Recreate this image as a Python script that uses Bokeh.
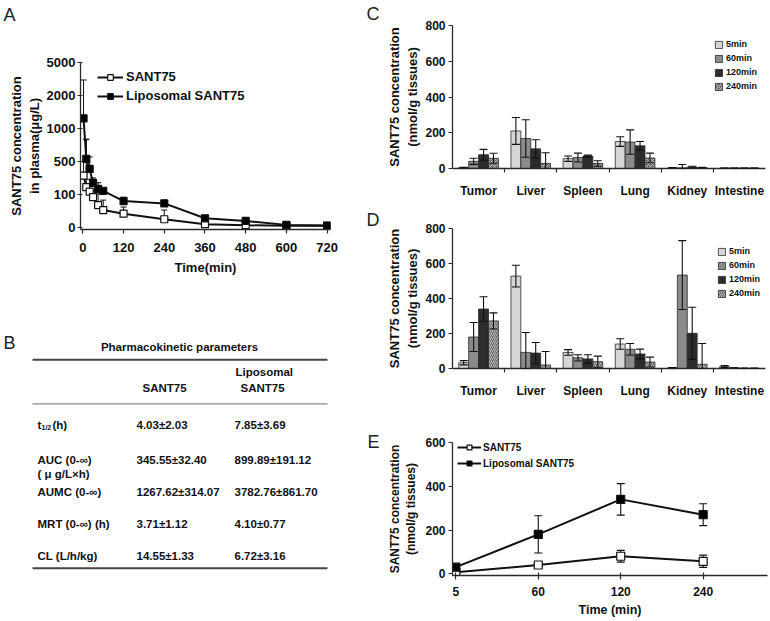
import numpy as np
from bokeh.plotting import figure
from bokeh.models import (Range1d, FixedTicker, Whisker, TeeHead, ColumnDataSource,
                          Legend, LegendItem)
from bokeh.layouts import row, column
from bokeh.embed import file_html
from bokeh.resources import INLINE
from bokeh.core.properties import value

FONT = "Liberation Sans"
AXC = "#2a2a2a"
TXT = "#111111"

# ---------------- Panel A : plasma concentration ----------------
a_time = [2, 10, 20, 30, 45, 60, 120, 240, 360, 480, 600, 720]
a_sant = [330, 190, 135, 92, 68, 53, 42, 25, 10, 7, 5, 5]
a_sant_err = [170, 640, 150, 60, 40, 30, 20, 28, 6, 5, 3, 3]
a_lipo = [1310, 540, 410, 240, 168, 145, 80, 73, 28, 20, 8, 6]
a_lipo_err = [2100, 300, 160, 60, 75, 40, 12, 10, 6, 5, 3, 3]
a_ytick_vals = [0, 100, 500, 1000, 2000, 5000]
a_xticks = [0, 120, 240, 360, 480, 600, 720]

# ---------------- Panel B : pharmacokinetic table ----------------
b_title = "Pharmacokinetic parameters"
b_col_head = ["SANT75", "Liposomal", "SANT75"]
b_params = ["AUC (0-∞)", "AUMC (0-∞)", "MRT (0-∞) (h)", "CL  (L/h/kg)"]
b_sant = ["4.03±2.03", "345.55±32.40", "1267.62±314.07", "3.71±1.12", "14.55±1.33"]
b_lipo = ["7.85±3.69", "899.89±191.12", "3782.76±861.70", "4.10±0.77", "6.72±3.16"]

# ---------------- Panels C / D : tissue distribution ----------------
tissues = ["Tumor", "Liver", "Spleen", "Lung", "Kidney", "Intestine"]
bar_times = ["5min", "60min", "120min", "240min"]

c_5 = [5, 210, 55, 151, 3, 2]
c_5_err = [2, 75, 15, 27, 2, 1]
c_60 = [40, 168, 61, 148, 4, 2]
c_60_err = [17, 105, 25, 68, 18, 1]
c_120 = [77, 110, 70, 127, 8, 2]
c_120_err = [30, 51, 5, 24, 5, 1]
c_240 = [57, 28, 28, 59, 5, 2]
c_240_err = [28, 60, 15, 27, 2, 1]

d_5 = [33, 528, 92, 140, 4, 11]
d_5_err = [12, 62, 16, 30, 2, 6]
d_60 = [180, 92, 61, 110, 534, 3]
d_60_err = [83, 114, 18, 33, 197, 1]
d_120 = [340, 88, 55, 83, 201, 1]
d_120_err = [70, 61, 24, 28, 149, 1]
d_240 = [272, 20, 39, 37, 24, 1]
d_240_err = [46, 77, 32, 28, 119, 1]

# ---------------- Panel E : tumor concentration ----------------
e_times = ["5", "60", "120", "240"]
e_sant = [7, 40, 80, 57]
e_sant_err = [4, 8, 27, 28]
e_lipo = [30, 180, 340, 270]
e_lipo_err = [10, 85, 72, 50]

panel_letters = ["A", "B", "C", "D", "E"]


def style(p, tick_size="12px", label_size="13px"):
    for ax in p.axis:
        ax.axis_line_color = AXC
        ax.axis_line_width = 1.3
        ax.major_tick_line_color = AXC
        ax.major_tick_line_width = 1.2
        ax.minor_tick_line_color = None
        ax.major_label_text_font = FONT
        ax.major_label_text_font_style = "bold"
        ax.major_label_text_font_size = tick_size
        ax.major_label_text_color = TXT
        ax.axis_label_text_font = FONT
        ax.axis_label_text_font_style = "bold"
        ax.axis_label_text_font_size = label_size
        ax.axis_label_text_color = TXT
    p.grid.visible = False
    p.outline_line_color = None
    p.background_fill_color = "white"
    p.border_fill_color = "white"


def blank(w, h):
    p = figure(width=w, height=h, output_backend="svg", toolbar_location=None,
               x_range=Range1d(0, w), y_range=Range1d(h, 0), min_border=0,
               x_axis_location=None, y_axis_location=None, frame_align=False)
    p.grid.visible = False
    p.outline_line_color = None
    p.border_fill_color = "white"
    return p


LET = dict(text_font=value(FONT), text_font_size="18px", text_color="#222222",
           text_baseline="alphabetic", text_align="left")

LW = 366  # left column width
RW = 770 - LW  # right column width
SA_H = 30
A_H = 260

# ================= strip with letter A =================
sA = blank(LW, SA_H)
sA.text(x=[3], y=[14], text=[panel_letters[0]], **LET)

# ================= Panel A =================
def a_tr(v):
    return np.interp(v, a_ytick_vals, np.arange(len(a_ytick_vals)))

pA = figure(width=LW, height=A_H, output_backend="svg", toolbar_location=None,
            x_range=Range1d(-7, 730), y_range=Range1d(-0.06, 5), frame_align=False,
            min_border_left=80, min_border_right=LW - 330, min_border_top=62 - SA_H,
            min_border_bottom=A_H - (62 - SA_H) - 167)
style(pA, tick_size="13px", label_size="13px")
pA.xaxis.ticker = FixedTicker(ticks=a_xticks)
pA.yaxis.ticker = FixedTicker(ticks=list(range(len(a_ytick_vals))))
pA.yaxis.major_label_overrides = {i: str(v) for i, v in enumerate(a_ytick_vals)}
pA.xaxis.major_tick_out = 4
pA.xaxis.major_tick_in = 0
pA.xaxis.major_label_standoff = 9
pA.yaxis.major_tick_out = 3
pA.yaxis.major_tick_in = 2
pA.yaxis.major_label_standoff = 2
pA.yaxis.axis_label = "SANT75 concentration\nin plasma(μg/L)"
pA.yaxis.axis_label_standoff = 2
pA.xaxis.axis_label = "Time(min)"
pA.xaxis.axis_label_standoff = 5

a_items = []
for vals, errs, fill, name in [(a_sant, a_sant_err, "white", "SANT75"),
                               (a_lipo, a_lipo_err, "black", "Liposomal SANT75")]:
    v = np.array(vals, float)
    e = np.array(errs, float)
    src = ColumnDataSource(dict(x=a_time, y=a_tr(v), up=a_tr(v + e)))
    pA.add_layout(Whisker(source=src, base="x", upper="up", lower="y",
                          line_color="#111111", line_width=1, level="underlay",
                          upper_head=TeeHead(size=6, line_color="#111111", line_width=1),
                          lower_head=None))
    r1 = pA.line("x", "y", source=src, line_color="#111111", line_width=2)
    r2 = pA.scatter("x", "y", source=src, marker="square", size=7, fill_color=fill,
                    line_color="#111111", line_width=1.2)
    a_items.append(LegendItem(label=name, renderers=[r1, r2]))
legA = Legend(items=a_items, location=(17, 126), label_text_font=FONT,
              label_text_font_style="bold", label_text_font_size="13px",
              label_text_color=TXT, glyph_width=26, glyph_height=14, label_height=14,
              label_standoff=3, spacing=4, padding=0, margin=0,
              background_fill_alpha=0, border_line_color=None)
pA.add_layout(legA)

# ================= Panel B (table) =================
Y0 = SA_H + A_H  # page y of the table figure top
BH = 621 - Y0
pB = blank(LW, BH)
tk = dict(text_font=value(FONT), text_font_style="bold", text_color=TXT,
          text_baseline="middle")
fs = "11.5px"
col_x = [37, 136, 234]
row_y = [424 - Y0, 459 - Y0, 491.7 - Y0, 523.3 - Y0, 555.7 - Y0]
pB.text(x=[3], y=[342 - Y0], text=[panel_letters[1]], **LET)
pB.text(x=[179], y=[346 - Y0], text=[b_title], text_align="center", text_font_size=fs, **tk)
pB.line(x=[32, 327], y=[359.3 - Y0] * 2, line_color="#444444", line_width=2)
pB.text(x=[142, 235, 240], y=[387.3 - Y0, 371.7 - Y0, 387.3 - Y0], text=b_col_head,
        text_font_size=fs, **tk)
pB.line(x=[32, 327], y=[403.3 - Y0] * 2, line_color="#8a8a8a", line_width=1.3)
# t1/2 row label with subscript
pB.text(x=[col_x[0]], y=[row_y[0]], text=["t"], text_font_size=fs, **tk)
pB.text(x=[col_x[0] + 4], y=[row_y[0] + 3], text=["1/2"], text_font_size="7px", **tk)
pB.text(x=[col_x[0] + 15], y=[row_y[0]], text=["(h)"], text_font_size=fs, **tk)
pB.text(x=[col_x[0]] * len(b_params), y=row_y[1:], text=b_params, text_font_size=fs, **tk)
pB.text(x=[col_x[0]], y=[473 - Y0], text=["( μ g/L×h)"], text_font_size=fs, **tk)
pB.text(x=[col_x[1]] * len(b_sant), y=row_y, text=b_sant, text_font_size=fs, **tk)
pB.text(x=[col_x[2]] * len(b_lipo), y=row_y, text=b_lipo, text_font_size=fs, **tk)
pB.line(x=[32, 327], y=[567.7 - Y0] * 2, line_color="#444444", line_width=2)

# ================= strip with letters C, D, E =================
SW = 18
sR = blank(SW, 621)
sR.text(x=[0, 0, 1], y=[13, 219, 441], text=panel_letters[2:], **LET)

FW = RW - SW  # width of right-hand figures
FX = LW + SW  # page x of right-hand figures


# ================= Panels C and D =================
def bar_panel(series, errs, hatch_pat, height, top, bottom, leg_x, leg_y):
    p = figure(width=FW, height=height, output_backend="svg", toolbar_location=None,
               x_range=Range1d(-0.5, 5.5), y_range=Range1d(0, 800), frame_align=False,
               min_border_left=446 - FX, min_border_right=770 - 765, min_border_top=top,
               min_border_bottom=bottom)
    style(p, tick_size="12px", label_size="13px")
    n = len(tissues)
    centers = list(range(n))
    p.xaxis.ticker = FixedTicker(ticks=centers, minor_ticks=[c + 0.5 for c in centers[:-1]])
    p.xaxis.major_label_overrides = {i: t for i, t in enumerate(tissues)}
    p.xaxis.major_tick_line_color = None
    p.xaxis.major_tick_out = 0
    p.xaxis.major_tick_in = 0
    p.xaxis.minor_tick_line_color = AXC
    p.xaxis.minor_tick_line_width = 1.2
    p.xaxis.minor_tick_out = 4
    p.xaxis.minor_tick_in = 0
    p.xaxis.major_label_standoff = 11
    p.yaxis.ticker = FixedTicker(ticks=[0, 200, 400, 600, 800])
    p.yaxis.major_tick_out = 4
    p.yaxis.major_tick_in = 0
    p.yaxis.major_label_standoff = 3
    p.yaxis.axis_label = "SANT75 concentration\n(nmol/g tissues)"
    p.yaxis.axis_label_standoff = 2
    offsets = [-0.285, -0.095, 0.095, 0.285]
    colors = ["#d5d5d5", "#8b8b8b", "#2c2c2c", "#6c6c6c"]
    items = []
    for j, (vals, err) in enumerate(zip(series, errs)):
        xs = [c + offsets[j] for c in centers]
        src = ColumnDataSource(dict(x=xs, top=vals,
                                    up=[v + e for v, e in zip(vals, err)],
                                    lo=[max(v - e, 0) for v, e in zip(vals, err)]))
        kw = {}
        if j == 3:
            kw = dict(hatch_pattern=hatch_pat, hatch_color="#cdcdcd", hatch_scale=4,
                      hatch_weight=0.8)
        r = p.vbar(x="x", top="top", width=0.19, source=src, fill_color=colors[j],
                   line_color="#2a2a2a", line_width=0.8, **kw)
        items.append(LegendItem(label=bar_times[j], renderers=[r]))
        p.add_layout(Whisker(source=src, base="x", upper="up", lower="lo",
                             line_color="#111111", line_width=1.1, level="annotation",
                             upper_head=TeeHead(size=8, line_color="#111111", line_width=1.1),
                             lower_head=TeeHead(size=8, line_color="#111111", line_width=1.1)))
    leg = Legend(items=items, location=(leg_x, leg_y), label_text_font=FONT,
                 label_text_font_style="bold", label_text_font_size="9px",
                 label_text_color=TXT, glyph_width=9, glyph_height=9, label_height=12,
                 label_standoff=3, spacing=2, padding=0, margin=0,
                 background_fill_alpha=0, border_line_color=None)
    p.add_layout(leg)
    return p


pC = bar_panel([c_5, c_60, c_120, c_240], [c_5_err, c_60_err, c_120_err, c_240_err],
               "diagonal_cross", 200, 25, 30, 262, 76)
pD = bar_panel([d_5, d_60, d_120, d_240], [d_5_err, d_60_err, d_120_err, d_240_err],
               "right_diagonal_line", 200, 28, 27, 265, 69)

# ================= Panel E =================
pE = figure(width=FW, height=221, output_backend="svg", toolbar_location=None,
            x_range=Range1d(-0.04, 3.78), y_range=Range1d(-8, 600), frame_align=False,
            min_border_left=449 - FX, min_border_right=3, min_border_top=42,
            min_border_bottom=46)
style(pE, tick_size="12px", label_size="12.5px")
e_pos = list(range(len(e_times)))
pE.xaxis.ticker = FixedTicker(ticks=e_pos)
pE.xaxis.major_label_overrides = {i: t for i, t in enumerate(e_times)}
pE.xaxis.major_tick_out = 4
pE.xaxis.major_tick_in = 3
pE.xaxis.major_label_standoff = 7
pE.xaxis.axis_label = "Time (min)"
pE.xaxis.axis_label_standoff = 4
pE.yaxis.ticker = FixedTicker(ticks=[0, 200, 400, 600])
pE.yaxis.major_tick_out = 4
pE.yaxis.major_tick_in = 0
pE.yaxis.major_label_standoff = 3
pE.yaxis.axis_label = "SANT75 concentration\n(nmol/g tissues)"
pE.yaxis.axis_label_standoff = 4
pE.yaxis.axis_label_text_font_size = "12px"

e_items = []
for vals, errs, fill, name in [(e_sant, e_sant_err, "white", "SANT75"),
                               (e_lipo, e_lipo_err, "black", "Liposomal SANT75")]:
    src = ColumnDataSource(dict(x=e_pos, y=vals,
                                up=[v + e for v, e in zip(vals, errs)],
                                lo=[max(v - e, 0) for v, e in zip(vals, errs)]))
    pE.add_layout(Whisker(source=src, base="x", upper="up", lower="lo",
                          line_color="#111111", line_width=1.1, level="underlay",
                          upper_head=TeeHead(size=8, line_color="#111111", line_width=1.1),
                          lower_head=TeeHead(size=8, line_color="#111111", line_width=1.1)))
    r1 = pE.line("x", "y", source=src, line_color="#111111", line_width=2)
    r2 = pE.scatter("x", "y", source=src, marker="square", size=8, fill_color=fill,
                    line_color="#111111", line_width=1.2)
    e_items.append(LegendItem(label=name, renderers=[r1, r2]))
legE = Legend(items=e_items, location=(5, 106), label_text_font=FONT,
              label_text_font_style="bold", label_text_font_size="10px",
              label_text_color=TXT, glyph_width=24, glyph_height=12, label_height=12,
              label_standoff=2, spacing=4, padding=0, margin=0,
              background_fill_alpha=0, border_line_color=None)
pE.add_layout(legE)

layout = row(column(sA, pA, pB), sR, column(pC, pD, pE))
open("out.html", "w").write(file_html(layout, INLINE))
